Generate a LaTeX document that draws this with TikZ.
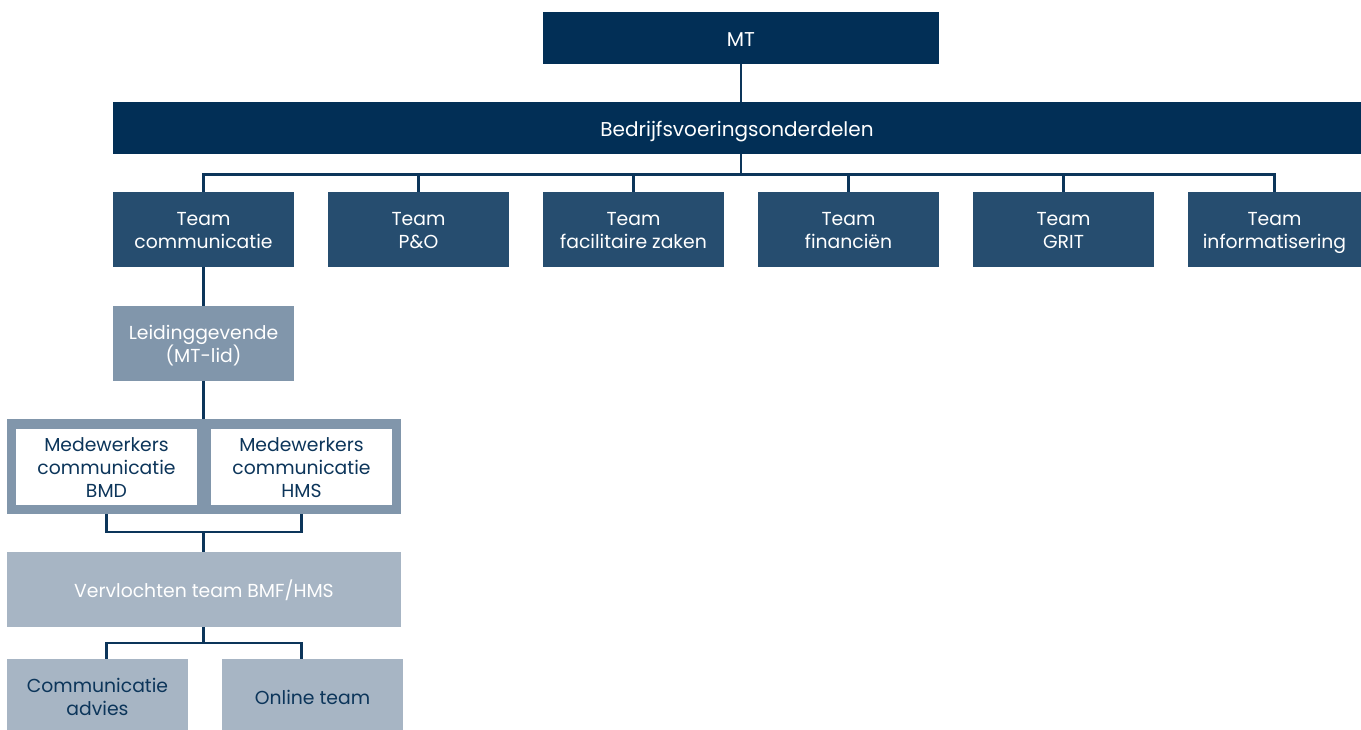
\documentclass[tikz,border=0pt]{standalone}
\usepackage{fontspec}
\setmainfont{Poppins}
\definecolor{navy}{HTML}{022F56}
\definecolor{teamc}{HTML}{264D6F}
\definecolor{leid}{HTML}{8196AB}
\definecolor{verv}{HTML}{A7B5C4}
\definecolor{linec}{HTML}{0C355A}
\newcommand\myTop{\rule{0pt}{21pt}}
\newcommand\myTopB{\rule{0pt}{22pt}}
\newcommand\myBot{\rule[-6pt]{0pt}{0pt}}
\begin{document}
\begin{tikzpicture}[x=1pt,y=-1pt,
  box/.style={draw=none,inner sep=0pt,align=center,font=\fontsize{18.8}{23}\selectfont},
  topbox/.style={box,font=\fontsize{20}{23}\selectfont},
  conn/.style={draw=linec,line width=2.4pt}]
\useasboundingbox (0,0) rectangle (1361,729);
% boxes
\node[topbox,fill=navy,text=white,minimum width=396,minimum height=52] (mt) at (741,38) {\myTopB MT\myBot};
\node[topbox,fill=navy,text=white,minimum width=1248,minimum height=52] (bar) at (737,128) {\myTopB Bedrijfsvoeringsonderdelen\myBot};
\foreach \n/\x/\a/\b in {t1/203.5/Team/communicatie,t2/418.5/Team/P\&O,t3/633.5/Team/facilitaire zaken,t4/848.5/Team/financiën,t5/1063.5/Team/GRIT}{
  \node[box,fill=teamc,text=white,minimum width=181,minimum height=75] (\n) at (\x,229.5) {\myTop\a\\\b\myBot};
}
\node[box,fill=teamc,text=white,minimum width=173,minimum height=75] (t6) at (1274.5,229.5) {\myTop Team\\informatisering\myBot};
\node[box,fill=leid,text=white,minimum width=181,minimum height=75] (leid) at (203.5,343.5) {\myTop Leidinggevende\\(MT-lid)\myBot};
\node[box,fill=leid,minimum width=394,minimum height=95] (frame) at (204,466.5) {};
\node[box,fill=white,text=linec,minimum width=181,minimum height=76] (bmd) at (106.5,467) {\myTop Medewerkers\\communicatie\\BMD\myBot};
\node[box,fill=white,text=linec,minimum width=181,minimum height=76] (hms) at (301.5,467) {\myTop Medewerkers\\communicatie\\HMS\myBot};
\node[box,fill=verv,text=white,minimum width=394,minimum height=75] (verv) at (204,589.5) {\myTop Vervlochten team BMF/HMS\myBot};
\node[box,fill=verv,text=linec,minimum width=181,minimum height=75] (ca) at (97.5,696.5) {\myTop Communicatie\\advies\myBot};
\node[box,fill=verv,text=linec,minimum width=181,minimum height=75] (ot) at (312.5,696.5) {\myTop Online team\myBot};
% connectors
\draw[conn] (mt.south) -- (bar.north -| mt.south);
\coordinate (hb) at (741,174.5);
\draw[conn] (bar.south -| mt.south) -- (hb);
\draw[conn] (t1.north) |- (hb) -| (t6.north);
\foreach \n in {t2,t3,t4,t5}{\draw[conn] (\n.north) -- (\n.north |- hb);}
\draw[conn] (t1.south) -- (leid.north);
\draw[conn] (leid.south) -- (leid.south |- frame.north);
\coordinate (h2) at (203.5,532);
\draw[conn] (bmd.south |- frame.south) |- (h2) -| (hms.south |- frame.south);
\draw[conn] (h2) -- (h2 |- verv.north);
\coordinate (h3) at (203.5,643);
\draw[conn] (h3 |- verv.south) -- (h3);
\draw[conn] (ca.north -| bmd.south) |- (h3) -| (ot.north -| hms.south);
\end{tikzpicture}
\end{document}
